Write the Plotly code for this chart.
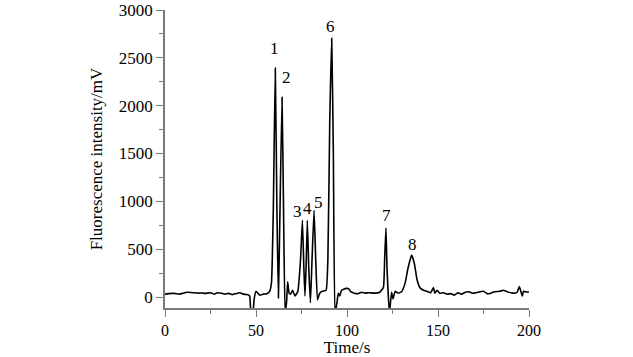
import plotly.graph_objects as go

# Time (s) and fluorescence intensity (mV)
time_s = [0, 2, 5, 8, 10, 12, 15, 18, 20, 22, 25, 27, 29, 31, 33, 35, 37, 39, 41, 43, 45,
          46.5, 47.3, 48.2, 49, 50, 51, 52, 54, 56, 57.5, 58.5, 59.5, 60.6, 61.5, 62.3, 63,
          64.3, 65.2, 66.0, 66.8, 67.4, 68.2, 69, 70.1, 71.4, 73, 74.5, 75.5, 76.3, 76.9,
          77.5, 78.2, 79, 79.9, 80.8, 81.9, 82.8, 83.8, 85, 86.5, 88.5, 89.5, 90.5, 91.6,
          92.5, 93.4, 94.5, 95.2, 96, 97, 99.5, 101, 102, 104, 106, 108, 110, 112, 115, 118,
          120, 120.7, 121.4, 122, 123.3, 124.5, 125.3, 126.5, 128, 130, 132, 133.5, 135.5,
          137, 138.5, 140, 142, 144, 146, 147.5, 148.3, 149.5, 151, 153, 155, 157, 159, 161,
          163, 165, 167, 169, 171, 173, 175, 177, 179, 181, 184, 186, 188, 190, 192, 193.5,
          194.7, 195.5, 196.3, 197, 199, 200]
intensity_mv = [30, 35, 38, 30, 40, 50, 45, 40, 42, 38, 45, 30, 45, 40, 30, 38, 25, 35, 45, 30, 25,
                10, -170, -170, -20, 60, 40, 20, 30, 35, 60, 150, 900, 2392, 900, -10, 700,
                2088, 800, -170, -50, 160, 40, 30, 70, 10, 60, 400, 802, 300, 10,
                300, 800, 300, -60, 400, 905, 400, -30, 40, 60, 70, 400, 1800, 2705,
                1500, -170, -60, 40, 10, 70, 90, 85, 55, 40, 35, 50, 40, 45, 40, 50,
                100, 400, 722, 300, -170, 50, -20, 60, 40, 55, 150, 300, 438,
                350, 180, 100, 70, 60, 45, 100, 40, 70, 40, 45, 30, 35, 20, 45,
                30, 50, 55, 40, 45, 55, 60, 35, 40, 55, 60, 70, 55, 45, 40, 50,
                110, 60, 10, 60, 50, 55]

peak_labels = ["1", "2", "3", "4", "5", "6", "7", "8"]
label_time = [59.9, 66.5, 72.8, 78.2, 84.1, 91.2, 121.9, 136.0]
label_value = [2600, 2290, 890, 930, 990, 2830, 850, 550]

x_ticks = [0, 50, 100, 150, 200]
y_ticks = [0, 500, 1000, 1500, 2000, 2500, 3000]

serif = "Liberation Serif, Times New Roman, serif"
axis_col = "#7a7a7a"

fig = go.Figure()
fig.add_trace(go.Scatter(x=time_s, y=intensity_mv, mode="lines",
                         line=dict(color="black", width=1.6, shape="spline", smoothing=0.4),
                         showlegend=False, hoverinfo="skip"))

for lab, tx, ty in zip(peak_labels, label_time, label_value):
    fig.add_annotation(x=tx, y=ty, text=lab, showarrow=False,
                       font=dict(family=serif, size=17, color="black"))

fig.update_xaxes(range=[0, 200], tickvals=x_ticks, ticks="outside", ticklen=7, tickwidth=1.3,
                 tickcolor=axis_col, showline=True, linecolor=axis_col, linewidth=1.6,
                 showgrid=False, zeroline=False, automargin=False, ticklabeloverflow="allow",
                 minor=dict(dtick=25, ticks="outside", ticklen=4, tickcolor=axis_col, tickwidth=1.3),
                 tickfont=dict(family=serif, size=16, color="black"),
                 title=dict(text="Time/s", font=dict(family=serif, size=17, color="black"), standoff=3))
fig.update_yaxes(range=[-115, 3000], tickvals=y_ticks, ticks="outside", ticklen=7, tickwidth=1.3,
                 tickcolor=axis_col, showline=True, linecolor=axis_col, linewidth=1.6,
                 showgrid=False, zeroline=False, automargin=False, ticklabeloverflow="allow",
                 minor=dict(tickvals=[250, 750, 1250, 1750, 2250, 2750], ticks="outside", ticklen=4,
                            tickcolor=axis_col, tickwidth=1.3),
                 tickfont=dict(family=serif, size=17, color="black"),
                 title=dict(text="Fluorescence intensity/mV", font=dict(family=serif, size=17, color="black"), standoff=12))

fig.update_layout(width=633, height=357, margin=dict(l=165, r=104, t=10, b=49),
                  plot_bgcolor="white", paper_bgcolor="white")

fig.write_html("out.html", config={"displayModeBar": False},
               post_script="document.body.style.margin='0';")
